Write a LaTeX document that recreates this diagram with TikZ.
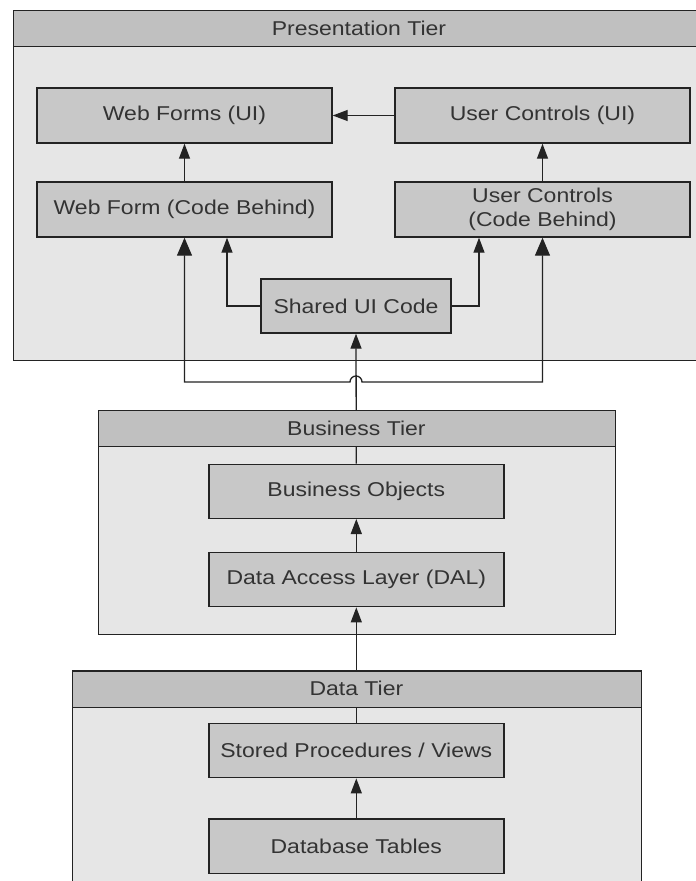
\documentclass[tikz,border=0pt]{standalone}
\usepackage{fontspec}
\setmainfont[FakeStretch=1.15]{Liberation Sans}
\usetikzlibrary{arrows.meta}
\definecolor{hdr}{RGB}{192,192,192}
\definecolor{inner}{RGB}{200,200,200}
\definecolor{tierfill}{RGB}{230,230,230}
\definecolor{ink}{RGB}{51,51,51}
\definecolor{edge}{RGB}{35,35,35}
\pgfdeclarelayer{back}
\pgfdeclarelayer{mid}
\pgfsetlayers{back,mid,main}
\begin{document}
\begin{tikzpicture}[x=1bp,y=-1bp,
  every node/.style={font=\fontsize{20bp}{24bp}\selectfont, text=ink},
  box/.style={draw=edge, line width=1.4bp, fill=inner, minimum width=295bp, minimum height=55bp, inner sep=0pt, align=center},
  tierbody/.style={draw=edge, line width=1.4bp, fill=tierfill, inner sep=0pt, anchor=north west},
  tierhead/.style={draw=edge, line width=1.4bp, fill=hdr, inner sep=0pt, anchor=north west, minimum height=36bp},
  conn/.style={draw=edge, line width=1.3bp},
  arr/.style={conn, -{Triangle[length=15bp,width=11bp]}},
  bigarr/.style={conn, {Triangle[length=18bp,width=15bp]}-{Triangle[length=18bp,width=15bp]}},
]
\useasboundingbox (0,0) rectangle (696,881);
\clip (0,0) rectangle (696,881);

% tiers
\begin{pgfonlayer}{back}
\node[tierbody, minimum width=692bp, minimum height=350bp] (pres) at (13,10) {};
\node[tierbody, minimum width=516.7bp, minimum height=224bp] (bus) at (98,410) {};
\node[tierbody, minimum width=568.7bp, minimum height=240bp] (data) at (72,670.3) {};
\end{pgfonlayer}
\node[tierhead, minimum width=692bp] (presh) at (13,10) {};
\node at (359,28) (presht) {Presentation Tier};
\node[tierhead, minimum width=516.7bp] (bush) at (98,410) {};
\node at (356.4,428) (busht) {Business Tier};
\node[tierhead, minimum width=568.7bp, minimum height=36.4bp] (datah) at (72,670.3) {};
\node at (356.4,688.5) (dataht) {Data Tier};

% presentation boxes
\node[box] (wfui) at (184.5,115.5) {Web Forms (UI)};
\node[box] (ucui) at (542.5,115.5) {User Controls (UI)};
\node[box] (wfcb) at (184.5,209.5) {Web Form (Code Behind)};
\node[box] (uccb) at (542.5,209.5) {User Controls\\(Code Behind)};
\node[box, minimum width=190bp, minimum height=54bp] (shared) at (356,306) {Shared UI Code};

% business boxes
\node[box, minimum height=54bp] (bo) at (356.3,491.3) {Business Objects};
\node[box, minimum height=54.4bp] (dal) at (356.3,579.5) {Data Access Layer (DAL)};

% data boxes
\node[box, minimum height=54.4bp] (sp) at (356.3,750.5) {Stored Procedures / Views};
\node[box, minimum height=54.4bp] (dbt) at (356.3,846.2) {Database Tables};

\coordinate (wfL) at ([xshift=42.5bp]wfcb.south);
\coordinate (ucL) at ([xshift=-63.5bp]uccb.south);

\begin{pgfonlayer}{mid}
\draw[arr] (ucui.west) -- (wfui.east);
\draw[arr] (wfcb.north) -- (wfui.south);
\draw[arr] (uccb.north) -- (ucui.south);
\draw[arr] (shared.west) -| (wfL);
\draw[arr] (shared.east) -| (ucL);
\draw[arr] (bo.north) -- (shared.south);
\draw[bigarr] (wfcb.south) -- (184.5,382) -- (350,382)
   arc[start angle=180, end angle=360, radius=6] -- (542.5,382) -- (uccb.south);
\draw[arr] (dal.north) -- (bo.south);
\draw[arr] (sp.north) -- (dal.south);
\draw[arr] (dbt.north) -- (sp.south);
\end{pgfonlayer}
\end{tikzpicture}
\end{document}
